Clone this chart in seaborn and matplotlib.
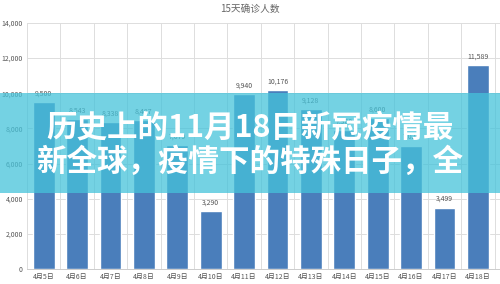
import numpy as np
import matplotlib
matplotlib.use("Agg")
import matplotlib.pyplot as plt
from matplotlib.patches import Rectangle
from matplotlib.ticker import FuncFormatter, FixedLocator
import seaborn as sns
import pandas as pd

# data (some labels are hidden under the banner, estimated)
dates = ['4月5日', '4月6日', '4月7日', '4月8日', '4月9日', '4月10日', '4月11日',
         '4月12日', '4月13日', '4月14日', '4月15日', '4月16日', '4月17日', '4月18日']
cases = [9500, 8543, 8338, 8487, 7079, 3290, 9940,
         10176, 9128, 7900, 8600, 7028, 3499, 11589]
title = '15天确诊人数'
banner_lines = ['历史上的11月18日新冠疫情最', '新全球，疫情下的特殊日子，全']

sns.set_style('white')
plt.rcParams['font.family'] = ['Noto Sans CJK SC', 'DejaVu Sans']

df = pd.DataFrame({'date': dates, 'cases': cases})

fig = plt.figure(figsize=(5, 2.84), dpi=100)
# the original is cropped on the right, so the axes run a bit past the edge
ax = fig.add_axes([27 / 500, 15 / 284, 501 / 500, 246 / 284])

sns.barplot(data=df, x='date', y='cases', color='#4a7ebb', saturation=1,
            width=0.65, ax=ax, zorder=3)

ax.set_xlim(-0.5, 14.5)
ax.set_ylim(0, 14000)
ax.set_yticks(np.arange(0, 14001, 2000))
ax.yaxis.set_major_formatter(FuncFormatter(lambda v, p: f'{int(v):,}'))
ax.xaxis.set_minor_locator(FixedLocator(np.arange(-0.5, 15, 1)))
ax.grid(axis='y', color='#dddddd', linewidth=0.7, zorder=0)
ax.grid(axis='x', which='minor', color='#dddddd', linewidth=0.7, zorder=0)
ax.tick_params(axis='both', which='both', length=0, labelsize=5, colors='#555555', pad=3)
ax.set_xlabel('')
ax.set_ylabel('')
for s in ['top', 'right', 'left']:
    ax.spines[s].set_visible(False)
ax.spines['bottom'].set_color('#cccccc')
ax.spines['bottom'].set_linewidth(0.7)

for i, v in enumerate(cases):
    ax.text(i, v + 250, f'{v:,}', ha='center', va='bottom', fontsize=5,
            color='#555555', zorder=4)

fig.text(0.5, 1 - 9 / 284, title, ha='center', va='center', fontsize=7, color='#666666')

# translucent banner over the chart
fig.add_artist(Rectangle((0, 1 - 193 / 284), 1, 100 / 284, transform=fig.transFigure,
                         facecolor='#45c3da', alpha=0.75, edgecolor='none', zorder=5))
for k, line in enumerate(banner_lines):
    fig.text(0.5, 1 - (127 + 35 * k) / 284, line, ha='center', va='center',
             fontsize=22, fontweight='heavy', color='white', zorder=6)

fig.savefig('out.png', dpi=100)
